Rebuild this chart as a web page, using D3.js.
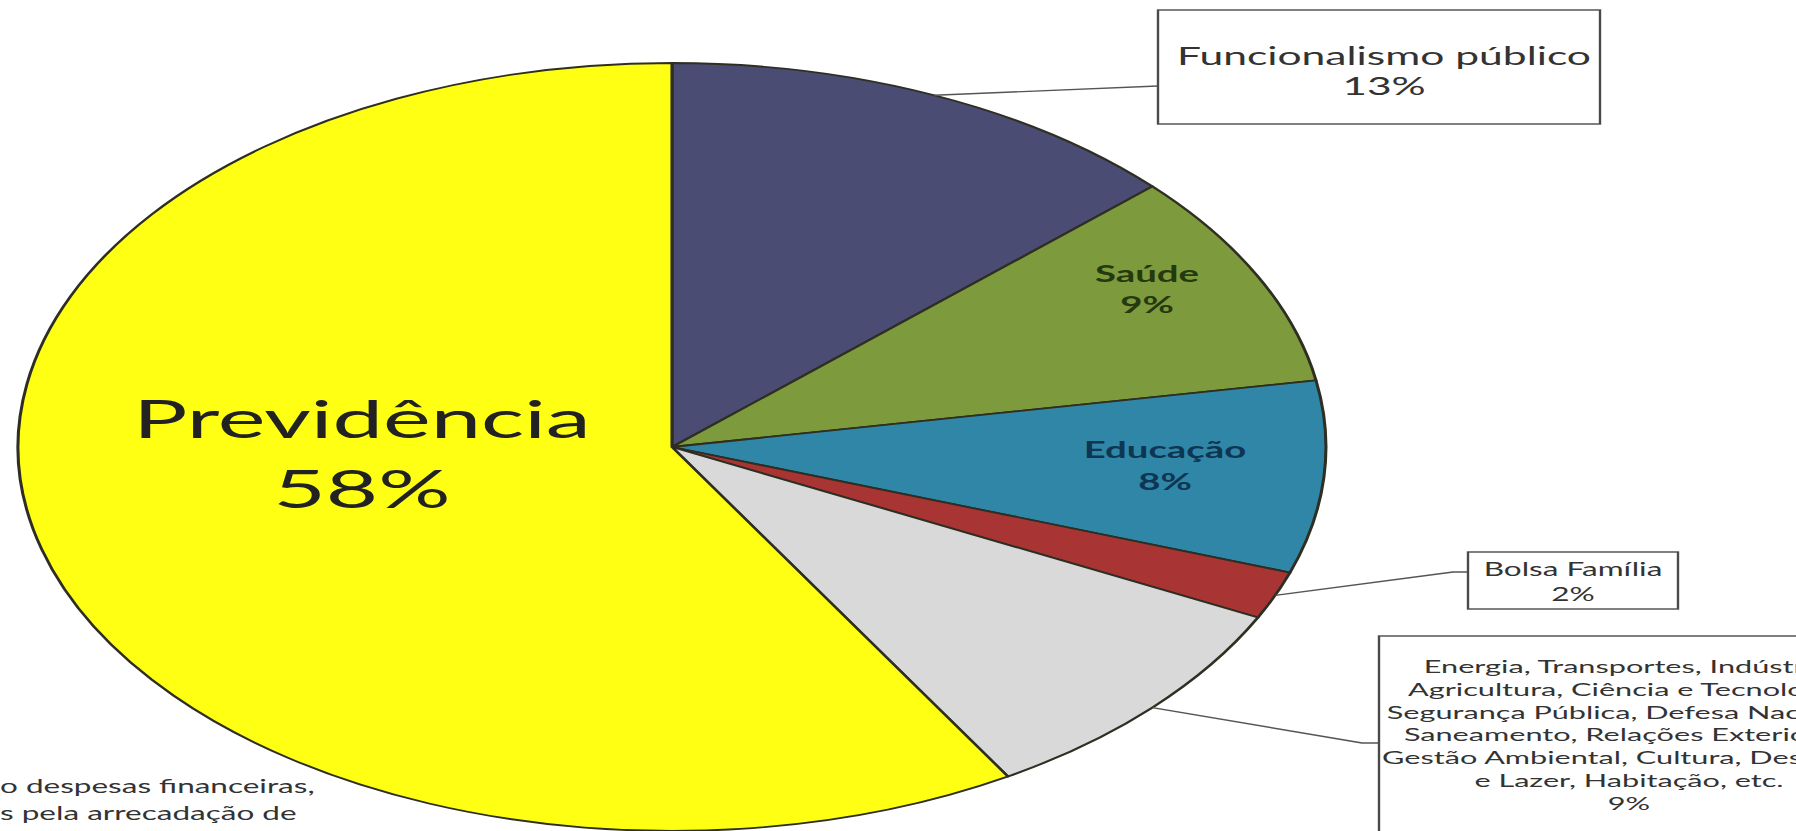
<!DOCTYPE html>
<html>
<head>
<meta charset="utf-8">
<script src="https://cdn.jsdelivr.net/npm/d3@7"></script>
<style>
	body { margin: 0; background: #fff; overflow: hidden; }
	svg { display: block; }
</style>
</head>
<body>
<script>
// data, clockwise from 12 o'clock
const categories = ["Funcionalismo público", "Saúde", "Educação", "Bolsa Família", "Outros", "Previdência"];
const shares = [13, 9, 8, 2, 9, 58];
const colors = ["#4b4c74", "#7d9a3c", "#2f86a6", "#a83434", "#d9d9d9", "#ffff14"];
const otherItems = [
	"Energia, Transportes, Indústria,",
	"Agricultura, Ciência e Tecnologia,",
	"Segurança Pública, Defesa Nacional,",
	"Saneamento, Relações Exteriores,",
	"Gestão Ambiental, Cultura, Desporto",
	"e Lazer, Habitação, etc."
];
const footnote = ["o despesas financeiras,", "s pela arrecadação de"];

const W = 1796, H = 831;
// the source picture is a round pie stretched sideways, so draw round and stretch the group
const SX = 1.703;
const cx = 672, cy = 447, r = 384;
const font = "Lato, 'Open Sans', sans-serif";

const svg = d3.select("body").append("svg").attr("width", W).attr("height", H);
svg.append("rect").attr("width", W).attr("height", H).attr("fill", "#fff");
const g = svg.append("g").attr("transform", `scale(${SX},1)`);
const px = x => x / SX; // page x -> unstretched x

const data = categories.map((c, i) => ({name: c, v: shares[i], color: colors[i]}));
const pie = d3.pie().sort(null).value(d => d.v);
const arcs = pie(data);
const arc = d3.arc().innerRadius(0).outerRadius(r);
const edge = d3.arc().innerRadius(r).outerRadius(r);

const pieG = g.append("g").attr("transform", `translate(${px(cx)},${cy})`);
pieG.selectAll("path.slice").data(arcs).enter().append("path")
	.attr("class", "slice")
	.attr("d", arc)
	.attr("fill", d => d.data.color)
	.attr("stroke", "#2e2e22")
	.attr("stroke-width", 1.8)
	.attr("stroke-linejoin", "round");

//Labels inside the pie
const inside = [
	{name: "Previdência", x: 362, y: 438, dy: 70, size: 53, weight: "normal", color: "#222"},
	{name: "Saúde", x: 1147, y: 282, dy: 31, size: 22.5, weight: "bold", color: "#25390e"},
	{name: "Educação", x: 1165, y: 458, dy: 32, size: 22.5, weight: "bold", color: "#0e3552"}
];
inside.forEach(l => {
	const d = data.find(e => e.name === l.name);
	const t = g.append("text")
		.attr("text-anchor", "middle")
		.attr("font-family", font)
		.attr("font-size", l.size)
		.attr("font-weight", l.weight)
		.attr("fill", l.color);
	t.append("tspan").attr("x", px(l.x)).attr("y", l.y).text(d.name);
	t.append("tspan").attr("x", px(l.x)).attr("y", l.y + l.dy).text(d.v + "%");
});

//Boxed labels with leader lines
const boxes = [
	{name: "Funcionalismo público", box: [1158, 10, 1600, 124], tx: 1384, ty: 65, step: 30, size: 25,
		elbow: null, end: [1158, 86], lines: ["Funcionalismo público"]},
	{name: "Bolsa Família", box: [1468, 552, 1678, 609], tx: 1573, ty: 576, step: 25, size: 18.5,
		elbow: [1453, 572], end: [1468, 572], lines: ["Bolsa Família"]},
	{name: "Outros", box: [1379, 636, 1879, 880], tx: 1629, ty: 673, step: 22.8, size: 18,
		elbow: [1362, 743], end: [1379, 743], lines: otherItems}
];
boxes.forEach(b => {
	const a = arcs.find(e => e.data.name === b.name);
	const start = edge.centroid(a);
	const pts = [[start[0] + px(cx), start[1] + cy]];
	if (b.elbow) pts.push([px(b.elbow[0]), b.elbow[1]]);
	pts.push([px(b.end[0]), b.end[1]]);
	g.append("path")
		.attr("d", d3.line()(pts))
		.attr("fill", "none")
		.attr("stroke", "#555")
		.attr("stroke-width", 1.4);
	g.append("rect")
		.attr("x", px(b.box[0])).attr("y", b.box[1])
		.attr("width", px(b.box[2]) - px(b.box[0])).attr("height", b.box[3] - b.box[1])
		.attr("fill", "#fff")
		.attr("stroke", "#4a4a4a")
		.attr("stroke-width", 1.4);
	const t = g.append("text")
		.attr("text-anchor", "middle")
		.attr("font-family", font)
		.attr("font-size", b.size)
		.attr("fill", "#333");
	b.lines.concat([a.data.v + "%"]).forEach((s, i) => {
		t.append("tspan").attr("x", px(b.tx)).attr("y", b.ty + i * b.step).text(s);
	});
});

//Footnote, cut by the left edge as in the source
const fn = g.append("text")
	.attr("font-family", font)
	.attr("font-size", 18.5)
	.attr("fill", "#333");
footnote.forEach((s, i) => {
	fn.append("tspan").attr("x", 0).attr("y", 793 + i * 27).text(s);
});
</script>
</body>
</html>
